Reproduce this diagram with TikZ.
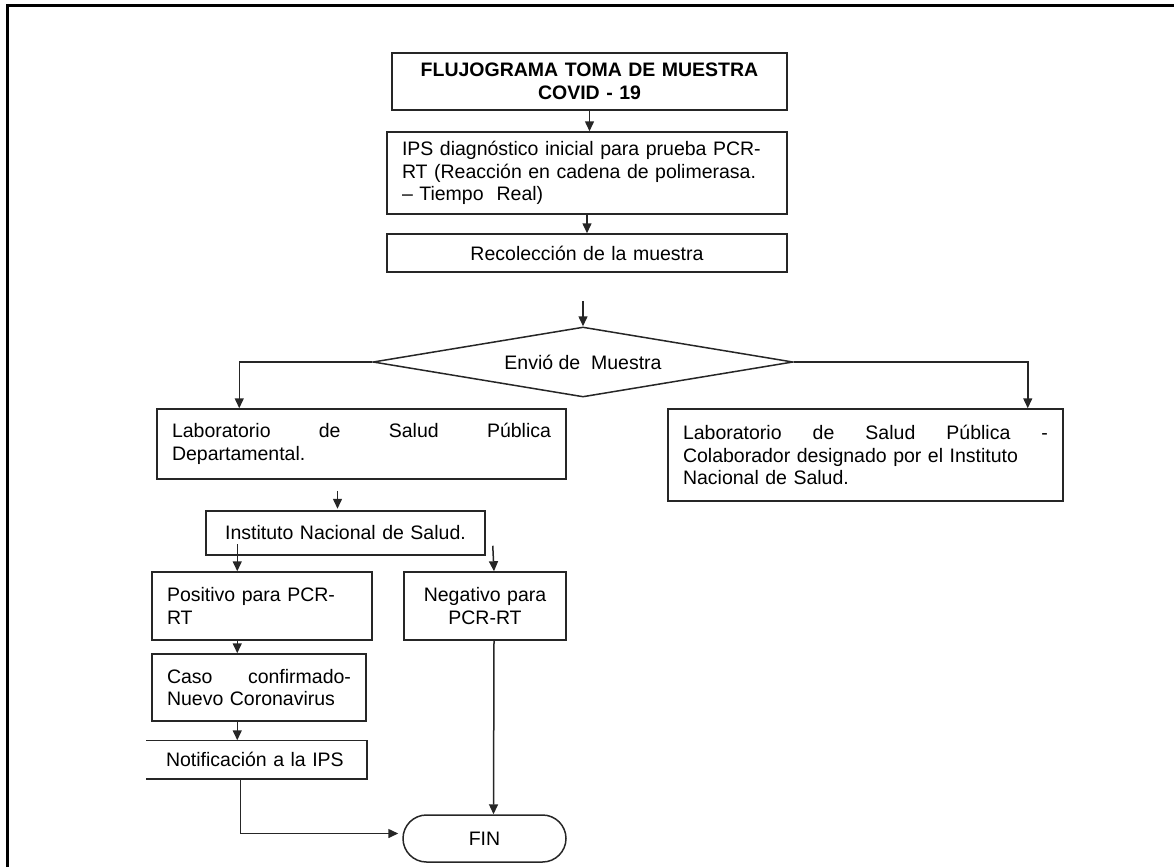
\documentclass[tikz,border=0pt]{standalone}
\usepackage{fontspec}
\setmainfont{Liberation Sans}
\usetikzlibrary{shapes.geometric,arrows.meta}

\begin{document}
\begin{tikzpicture}[x=1pt,y=-1pt,font=\fontsize{19.5}{22.5}\selectfont]
        \tikzset{Caja/.style={draw=black!85, line width=1.5pt, inner xsep=15pt, inner ysep=3pt, align=left}}
        \tikzset{Flecha/.style={-{Triangle[length=10pt,width=9pt]}, line width=1.5pt, draw=black!85}}
        \useasboundingbox (0,0) rectangle (1174,867);
        \draw[line width=3pt] (7,867) -- (7,6) -- (1174,6);
        \node[Caja, align=center, text width=365pt, minimum height=57pt, font=\fontsize{19.5}{22.5}\selectfont\bfseries] (Titulo) at (589.5,81.5) {FLUJOGRAMA TOMA DE MUESTRA\\COVID - 19};
        \node[Caja, text width=370pt, minimum height=82pt] (IPS) at (587,173) {IPS diagnóstico inicial para prueba PCR-\\RT (Reacción en cadena de polimerasa.\\– Tiempo\ \ Real)};
        \node[Caja, align=center, text width=370pt, minimum height=38pt] (Recol) at (587,253) {Recolección de la muestra};
        \node[draw=black!85, line width=1.5pt, diamond, aspect=6, minimum width=420pt, minimum height=70pt, inner sep=0pt] (Envio) at (583,362) {Envió de\ \ Muestra};
        \node[Caja, text width=379pt, minimum height=70pt] (LabDep) at (361.5,444) {Laboratorio\hfill de\hfill Salud\hfill Pública\\Departamental.};
        \node[Caja, text width=365pt, minimum height=92pt] (LabCol) at (865.5,455) {Laboratorio\hfill de\hfill Salud\hfill Pública\hfill -\\Colaborador designado por el Instituto\\Nacional de Salud.};
        \node[Caja, align=center, text width=249pt, minimum height=44pt] (INS) at (345.5,533) {Instituto Nacional de Salud.};
        \node[Caja, text width=190pt, minimum height=68pt] (Pos) at (262,606) {Positivo para PCR-\\RT};
        \node[Caja, align=center, text width=132pt, minimum height=68pt] (Neg) at (485,606) {Negativo para\\PCR-RT};
        \node[Caja, text width=184pt, minimum height=67pt] (Caso) at (259,687.5) {Caso\hfill confirmado-\\Nuevo Coronavirus};
        \node[Caja, draw=none, inner xsep=19pt, text width=181pt, minimum height=37pt] (Notif) at (256.5,759.5) {Notificación a la IPS};
        \draw[black!85, line width=1.5pt] (Notif.north west) -- (Notif.north east) -- (Notif.south east) -- (Notif.south west);
        \node[Caja, align=center, text width=133pt, minimum height=47pt, rounded corners=23.5pt] (FIN) at (484.5,838.5) {FIN};
        \draw[Flecha] (Titulo.south) -- (Titulo.south |- IPS.north);
        \draw[Flecha] (IPS.south) -- (Recol.north);
        \draw[Flecha, shorten <=28pt] (Recol.south -| Envio.north) -- (Envio.north);
        \draw[Flecha] (Envio.west) -| ([xshift=83pt]LabDep.north west);
        \draw[Flecha] (Envio.east) -| ([xshift=-36pt]LabCol.north east);
        \draw[Flecha, shorten <=11pt, shorten >=3pt] ([xshift=-24pt]LabDep.south) -- ([xshift=-24pt,yshift=-32pt]LabDep.south);
        \draw[Flecha] ([xshift=86pt,yshift=27pt]Pos.north west) -- ([xshift=86pt]Pos.north west);
        \draw[Flecha] ([xshift=7pt,yshift=10pt]INS.south east) -- ([xshift=9pt]Neg.north);
        \draw[Flecha] ([xshift=86pt]Pos.south west) -- ([xshift=86pt]Caso.north west);
        \draw[Flecha] ([xshift=86pt]Caso.south west) -- ([xshift=91pt]Notif.north west);
        \draw[Flecha] ([xshift=94pt]Notif.south west) |- ([xshift=-4pt,yshift=5pt]FIN.west);
        \draw[Flecha] ([xshift=9pt]Neg.south) -- ([xshift=9pt]FIN.north);
    \end{tikzpicture}
\end{document}
